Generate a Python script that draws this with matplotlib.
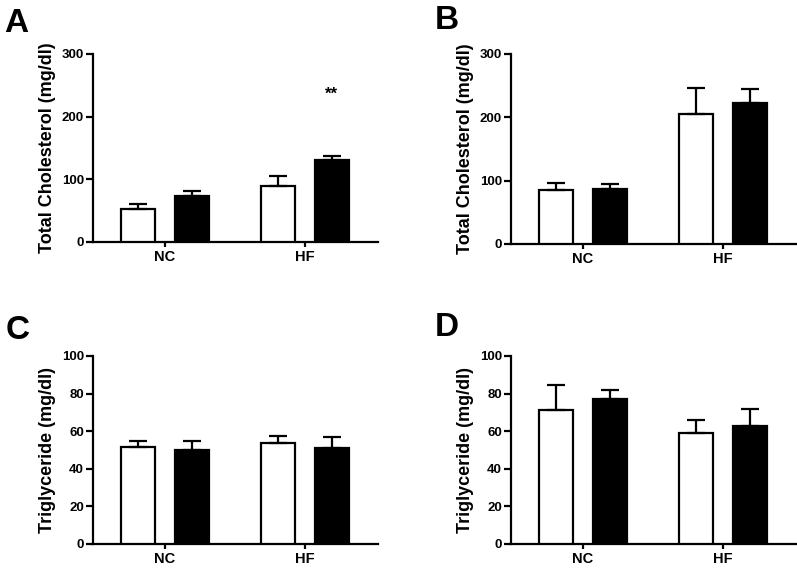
import matplotlib
matplotlib.use('Agg')

import matplotlib.pyplot as plt
import numpy as np

# groups on the x axis
groups = ['NC', 'HF']

# panel A - total cholesterol
tc_a_white = [53, 90]
tc_a_white_err = [7, 16]
tc_a_black = [73, 131]
tc_a_black_err = [9, 7]

# panel B - total cholesterol
tc_b_white = [85, 205]
tc_b_white_err = [11, 41]
tc_b_black = [87, 223]
tc_b_black_err = [8, 21]

# panel C - triglyceride
tg_c_white = [51.5, 53.6]
tg_c_white_err = [3.5, 3.6]
tg_c_black = [50, 51]
tg_c_black_err = [5, 6]

# panel D - triglyceride
tg_d_white = [71.5, 59.3]
tg_d_white_err = [13, 6.7]
tg_d_black = [77, 63]
tg_d_black_err = [5, 8.7]

plt.rcParams['font.family'] = ['Liberation Sans', 'DejaVu Sans']
plt.rcParams['font.weight'] = 'bold'

W, H = 797, 570
fig = plt.figure(figsize=(W / 100, H / 100), dpi=100)


def px_axes(left, top, right, bottom):
    return fig.add_axes([left / W, 1 - bottom / H, (right - left) / W, (bottom - top) / H])


def draw_panel(ax, white, white_err, black, black_err, ymax, ylabel):
    x = np.arange(len(groups))
    bw = 0.243
    off = 0.19
    ekw = dict(elinewidth=1.6, capthick=1.6, capsize=6.2, ecolor='black')
    ax.bar(x - off, white, bw, color='white', edgecolor='black', linewidth=1.6,
           yerr=[np.zeros(len(white)), white_err], error_kw=ekw, zorder=3)
    ax.bar(x + off, black, bw, color='black', edgecolor='black', linewidth=1.6,
           yerr=[np.zeros(len(black)), black_err], error_kw=ekw, zorder=3)
    ax.set_xlim(-0.514, 1.521)
    ax.set_ylim(0, ymax)
    ax.set_yticks(np.linspace(0, ymax, 4 if ymax == 300 else 6))
    ax.set_xticks(x)
    ax.set_xticklabels(groups, fontsize=10.5, fontweight='bold')
    for lab in ax.get_yticklabels():
        lab.set_fontsize(9.5)
        lab.set_fontweight('bold')
    ax.spines['top'].set_visible(False)
    ax.spines['right'].set_visible(False)
    ax.spines['left'].set_linewidth(1.6)
    ax.spines['bottom'].set_linewidth(1.6)
    ax.tick_params(axis='y', width=1.6, length=5, pad=1.5)
    ax.tick_params(axis='x', width=1.6, length=3.6, pad=2)
    ax.set_ylabel(ylabel, fontsize=13, fontweight='bold', labelpad=4)


ax_a = px_axes(93, 54, 378, 242)
draw_panel(ax_a, tc_a_white, tc_a_white_err, tc_a_black, tc_a_black_err, 300,
           'Total Cholesterol (mg/dl)')
ax_a.text(1 + 0.19, 236, '**', ha='center', va='center', fontsize=12, fontweight='bold')

ax_b = px_axes(511, 54, 796, 244)
draw_panel(ax_b, tc_b_white, tc_b_white_err, tc_b_black, tc_b_black_err, 300,
           'Total Cholesterol (mg/dl)')

ax_c = px_axes(93, 356, 378, 544)
draw_panel(ax_c, tg_c_white, tg_c_white_err, tg_c_black, tg_c_black_err, 100,
           'Triglyceride (mg/dl)')

ax_d = px_axes(511, 356, 796, 544)
draw_panel(ax_d, tg_d_white, tg_d_white_err, tg_d_black, tg_d_black_err, 100,
           'Triglyceride (mg/dl)')

for letter, x, y in [('A', 4, 32), ('B', 435, 29), ('C', 6, 339), ('D', 435, 336)]:
    fig.text(x / W, 1 - y / H, letter, fontsize=24, fontweight='bold', va='baseline', ha='left')

fig.savefig('out.png', dpi=100)
